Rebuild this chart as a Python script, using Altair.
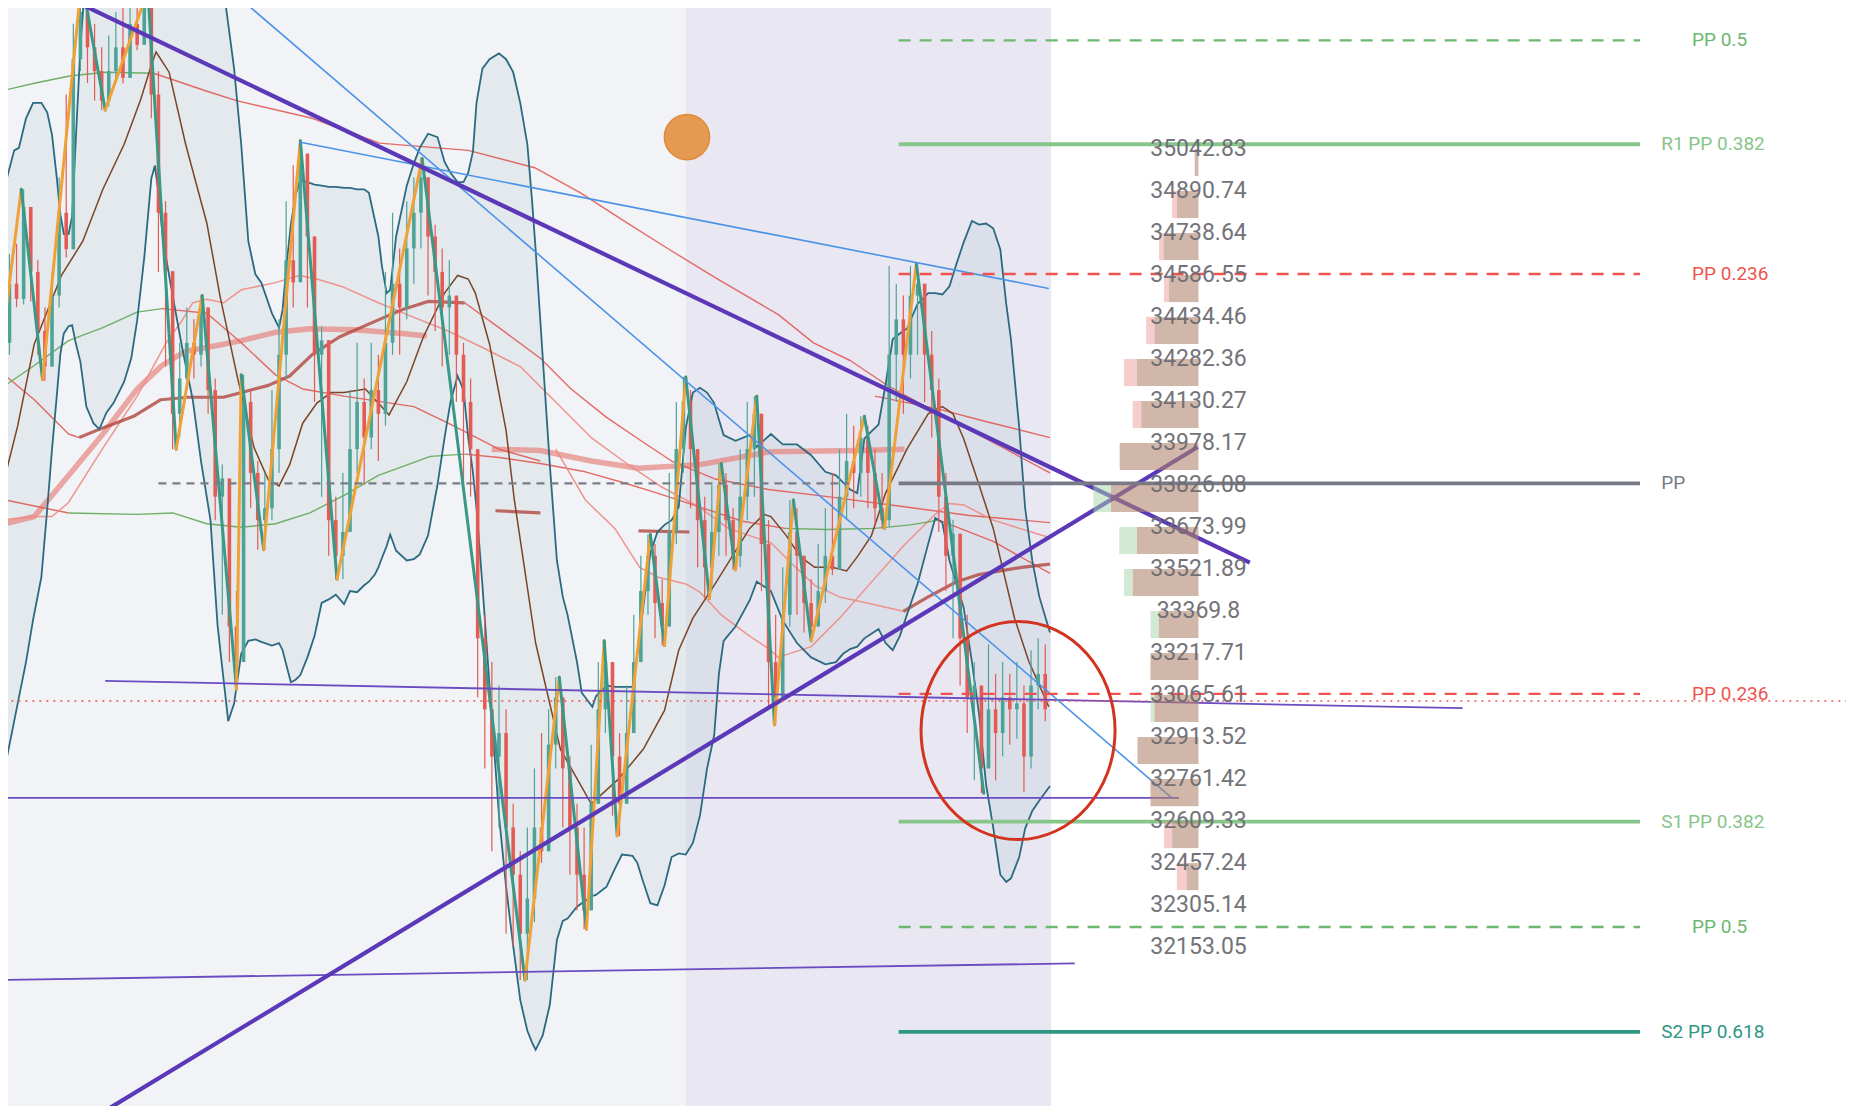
import altair as alt
import pandas as pd
import numpy as np

# ---------------- candles (bar index t, prices) ----------------
candle_t = list(range(2, 890, 6))
first_open = 34298
close = [
34341,34555,34500,34833,34598,34384,34255,34512,34812,34680,
35368,35539,35411,35325,35218,35325,35411,35300,35496,35420,
35561,35240,34812,34600,34084,34212,34341,34298,34469,34170,
33784,33850,33314,33185,34127,33870,33699,33742,33956,34298,
34640,34560,35026,34726,34298,34350,33699,33570,33656,33956,
34127,33998,34170,34084,34341,34555,34469,34683,34812,34940,
34726,34598,34469,34512,34298,34127,33956,33271,33014,32843,
32928,32586,32415,32201,32329,32586,32500,32886,33057,32800,
32586,32415,32286,32672,33014,33185,32843,32672,32928,33185,
33442,33570,33399,33314,33656,33956,34127,33956,33699,33528,
33656,33827,33699,33570,33784,33956,34084,33613,33185,33057,
33356,33656,33570,33399,33314,33442,33570,33520,33784,33913,
33870,33998,33870,33742,33699,34298,34426,34298,34512,34555,
34298,34170,33784,33570,33650,33271,33057,33100,32800,33014,
32928,33057,33014,33035,32843,33100,33142,33014]
high = [
34426,34662,34700,34897,34769,34640,34469,34598,34940,35240,
35496,35668,35582,35496,35411,35454,35539,35582,35582,35603,
35625,35582,35325,34854,34469,34341,34469,34426,34512,34469,
34212,33900,33570,33442,34225,34170,33913,33870,34170,34426,
34854,34983,35073,34983,34726,34400,33998,33784,33870,34170,
34341,34212,34341,34298,34598,34812,34683,34854,34940,35008,
34897,34769,34683,34640,34512,34341,34212,33956,33356,33185,
33100,33014,32672,32500,32586,32800,32928,33014,33130,33057,
32843,32672,32586,32886,33185,33262,33185,32928,33100,33356,
33570,33647,33613,33485,33870,34127,34217,34170,33956,33784,
33827,33904,33870,33742,33956,34127,34148,34041,33699,33356,
33528,33772,33742,33570,33485,33613,33742,33870,33956,34084,
34041,34075,34041,33956,33870,34619,34555,34512,34619,34628,
34512,34384,34212,33870,33700,33528,33356,33185,33014,33249,
33142,33185,33142,33185,33100,33228,33271,33249]
low = [
34255,34298,34470,34480,34491,34298,34204,34298,34469,34650,
35026,35325,35282,35218,35184,35197,35282,35280,35368,35400,
35454,35154,34598,34255,33956,33998,34170,34212,34255,34084,
33699,33356,33185,33087,33185,33742,33592,33592,33699,33870,
34212,34469,34769,34469,34127,33784,33570,33485,33485,33699,
33870,33827,33956,33913,34041,34298,34298,34426,34555,34683,
34512,34384,34255,34298,34127,33827,33784,33057,32800,32500,
32586,32201,32158,32034,32034,32244,32458,32586,32800,32586,
32415,32286,32218,32329,32672,32928,32629,32556,32672,32928,
33185,33356,33271,33245,33314,33613,33870,33742,33528,33416,
33442,33570,33570,33519,33528,33699,33784,33442,33014,32958,
33057,33314,33356,33292,33262,33314,33399,33500,33613,33699,
33742,33784,33742,33677,33669,33677,34127,34084,34212,34298,
34127,33998,33656,33442,33271,33100,32928,32757,32710,32800,
32757,32843,32886,32907,32714,32800,33014,32971]

# ---------------- zigzag pivots ----------------
zz_t = [0,18,36,69,89,125,149,171,200,204,223,254,285,357,444,473,496,511,522,550,
        562,580,600,610,622,640,655,671,686,731,748,775,832]
zz_p = [34285,34897,34208,35655,35184,35616,33956,34512,33087,34225,33592,35073,33485,35008,32034,33130,32218,33262,32556,33647,
        33245,34217,33416,33904,33519,34148,32958,33772,33262,34075,33669,34628,32710]

# ---------------- bollinger bands ----------------
bb_t = [0,6,12,16,22,28,35,40,44,48,
        51,54,58,61,64,68,73,79,84,90,
        96,105,111,116,122,128,131,134,138,146,
        154,163,170,178,184,189,193,198,204,210,
        216,221,230,236,239,242,246,250,254,260,
        266,272,278,284,291,296,302,308,312,317,
        320,323,327,330,335,344,350,355,362,370,
        376,381,387,392,396,400,403,408,414,422,
        428,434,440,446,450,453,459,465,471,476,
        480,488,492,501,504,513,520,526,535,539,
        544,550,556,562,568,574,580,586,592,598,
        604,608,612,622,634,640,652,662,674,686,
        698,707,713,719,725,731,737,743,749,755,
        761,767,776,785,791,797,803,809,815,822,
        828,834,840,846,851,855,862,867,873,879,
        888]
bb_upper = [34773,34940,35038,35047,35154,35210,35210,35175,35094,34940,
        34807,34735,34735,34799,35068,35411,35710,35924,35967,36010,
        36010,36010,36010,36010,36010,36010,36010,36010,36010,36010,
        36010,35967,35924,35839,35753,35625,35496,35334,35060,34709,
        34589,34559,34448,34396,34461,34610,34769,34876,34931,34923,
        34914,34910,34906,34906,34902,34902,34897,34897,34884,34786,
        34726,34619,34521,34533,34726,34910,34991,35047,35098,35086,
        34996,34957,34923,34923,34957,35034,35210,35334,35368,35389,
        35368,35321,35210,35060,34854,34679,34289,33900,33553,33421,
        33356,33185,33074,33023,33061,33100,33095,33095,33095,33215,
        33382,33579,33656,33682,33699,33746,34033,34161,34178,34161,
        34123,34063,34007,33986,34007,33964,34011,33973,33973,33934,
        33874,33861,33836,33810,33797,33994,34020,34045,34191,34354,
        34375,34392,34482,34521,34521,34516,34546,34628,34705,34782,
        34769,34773,34756,34679,34482,34354,34033,33742,33553,33421,
        33292]
bb_lower = [32804,32843,32971,33057,33185,33339,33493,33742,33956,34148,
        34298,34375,34401,34405,34341,34272,34110,34050,34028,34088,
        34123,34200,34285,34422,34649,34936,34983,34884,34709,34512,
        34324,34135,33913,33699,33318,33125,32971,33035,33215,33262,
        33267,33258,33245,33254,33228,33177,33112,33121,33138,33202,
        33279,33399,33412,33429,33395,33442,33438,33463,33476,33502,
        33528,33562,33605,33647,33588,33553,33558,33575,33643,33827,
        33998,34127,34221,34170,33998,33870,33742,33463,33100,32629,
        32372,32158,31961,31850,31807,31781,31833,31944,32179,32248,
        32256,32299,32312,32338,32342,32372,32436,32488,32483,32458,
        32389,32312,32304,32376,32479,32492,32488,32530,32629,32800,
        32920,33142,33262,33314,33408,33476,33442,33335,33254,33202,
        33177,33185,33215,33232,33241,33271,33288,33305,33254,33228,
        33279,33356,33468,33613,33707,33690,33553,33468,33382,33185,
        32997,32740,32586,32415,32389,32402,32479,32582,32646,32684,
        32736]

# ---------------- basis (brown) ----------------
brown_t = [0,15,29,52,70,87,105,119,128,132,143,157,175,186,201,215,227,236,245,256,
           268,280,291,309,320,329,344,358,376,387,396,402,414,428,435,453,474,500,523,544,
           562,574,586,604,634,646,652,665,677,689,704,716,725,737,749,767,785,797,806,815,
           828,840,858,870,887]
brown_p = [33784,34041,34337,34585,34709,34897,35060,35222,35347,35394,35321,35060,34773,34512,34212,33960,33844,33823,33900,34050,
           34123,34161,34161,34174,34123,34080,34200,34362,34521,34585,34572,34521,34337,34024,33772,33254,32869,32672,32761,32869,
           33010,33228,33344,33463,33669,33720,33712,33643,33566,33528,33528,33515,33566,33643,33797,33956,34084,34110,34084,33994,
           33827,33669,33344,33189,33023]

# ---------------- moving averages (style, t, price) ----------------
ma1_green_t = [0,30,60,90,130]
ma1_green_p = [35252,35282,35308,35321,35317]
ma1_red_t = [130,175,200,264,321,396,453,491,528,566,607,658,688,719,749,772,809,847,888]
ma1_red_p = [35317,35252,35218,35154,35064,35038,34974,34884,34782,34679,34572,34444,34341,34277,34191,34135,34050,33964,33870]
ma2_t = [740,794,832,888]
ma2_p = [34148,34101,34058,33998]
ma3a_t = [0,29,58,67]
ma3a_p = [34238,34135,34011,33998]
ma3b_t = [67,87,113,136,159,189,227,245,264,287,321,340,362,393]
ma3b_p = [33998,34033,34075,34135,34144,34144,34187,34221,34298,34362,34426,34461,34491,34486]
ma3c_t = [393,422,457,483,513,544,568,604,650,700,760,820,888]
ma3c_p = [34486,34396,34285,34174,34071,33981,33913,33849,33810,33784,33750,33716,33690]
ma4a_t = [0,29,58,87,116,137,157,175,204,233,262,300,340,361]
ma4a_p = [33682,33712,33861,34011,34174,34259,34311,34324,34349,34379,34392,34388,34375,34366]
ma4b_t = [416,457,500,540,592,652,725,765]
ma4b_p = [33956,33951,33913,33887,33900,33947,33951,33956]
ma5a_t = [419,457]
ma5a_p = [33733,33725]
ma5b_t = [540,583]
ma5b_p = [33660,33656]
ma6a_t = [0,29,58]
ma6a_p = [33776,33750,33725]
ma6b_t = [58,116,146,175,204,233,262,291,320,364,393]
ma6b_p = [33725,33720,33725,33686,33673,33686,33725,33789,33861,33930,33938]
ma6c_t = [393,422,457,495,526,556,592,628,664]
ma6c_p = [33938,33926,33904,33874,33836,33797,33746,33695,33669]
ma6d_t = [664,700,740,770,794]
ma6d_p = [33669,33665,33669,33682,33699]
ma6e_t = [794,840,888]
ma6e_p = [33699,33622,33506]
ma7a_t = [0,29,58,87,116,137]
ma7a_p = [34174,34259,34349,34396,34452,34465]
ma7b_t = [137,175,204,233,256,291,350,379,422,457]
ma7b_p = [34465,34448,34341,34225,34174,34148,34110,34050,33956,33913]
ma8a_t = [0,29,44,58,87,116,140,154,163,175,189,204,233,253,268,291,320,349,379,408,
          440,470,500,530,560,590,616,634,652,670,689,710,737,764]
ma8a_p = [33699,33712,33712,33763,33960,34148,34337,34422,34486,34499,34486,34533,34559,34585,34572,34542,34486,34435,34384,34324,
          34255,34127,33998,33904,33818,33750,33669,33643,33617,33540,33463,33421,33395,33369]
ma8b_t = [764,785,809,828,846,864,888]
ma8b_p = [33369,33421,33476,33502,33515,33528,33540]
ma9_t = [470,495,520,541,556,580,592,610,634,652,658,686,710,740,764,791,803,815,840,888]
ma9_p = [33956,33772,33669,33528,33493,33468,33438,33356,33279,33228,33202,33241,33344,33489,33605,33720,33759,33754,33699,33635]

# ---------------- drawn trend lines ----------------
trend_x1 = [55, 80, 193, 253, 89, 0, 0]
trend_y1 = [35595, 31537, 35625, 35068, 33117, 32693, 32034]
trend_x2 = [1057, 1013, 991, 887, 1237, 997, 909]
trend_y2 = [33545, 33964, 32693, 34538, 33018, 32693, 32094]
trend_kind = ["thick", "thick", "blue", "blue", "thin", "thin", "thin"]

# ---------------- pivot levels ----------------
pivot_levels = [35436, 35060, 34590, 33832, 33070, 32607, 32226, 31846]
pivot_names = ["PP 0.5", "R1 PP 0.382", "PP 0.236", "PP", "PP 0.236", "S1 PP 0.382", "PP 0.5", "S2 PP 0.618"]
pivot_label_t = [1431, 1405, 1431, 1405, 1431, 1405, 1431, 1405]
pivot_colors = ["#6db870", "#87c58a", "#ef5350", "#787b86", "#ef5350", "#87c58a", "#6db870", "#2e9683"]
pivot_dashed = [True, False, True, False, True, False, True, False]
pivot_from, pivot_to = 760, 1387
prev_pp_level = 33832
prev_pp_from, prev_pp_to = 134, 718
last_price = 33044

# ---------------- volume profile ----------------
vp_price = [35042.83, 34890.74, 34738.64, 34586.55, 34434.46, 34282.36, 34130.27, 33978.17, 33826.08, 33673.99,
            33521.89, 33369.8, 33217.71, 33065.61, 32913.52, 32761.42, 32609.33, 32457.24, 32305.14, 32153.05]
vp_main = [3.2, 18.3, 29.6, 25.1, 37.3, 52.0, 48.4, 66.6, 74.0, 52.0, 55.6, 33.6, 40.6, 37.3, 51.6, 40.6, 22.3, 10.1, 0, 0]
vp_side = [0, 4.0, 3.7, 4.1, 6.9, 11.0, 7.3, 0, 14.9, 15.0, 7.4, 7.0, 0, 3.3, 0, 0, 6.8, 8.2, 0, 0]
vp_side_kind = ["sell", "sell", "sell", "sell", "sell", "sell", "sell", "none", "buy", "buy",
                "buy", "buy", "none", "buy", "none", "none", "sell", "sell", "none", "none"]
vp_anchor = 1013.6
vp_bar_depth = 98

# ---------------- annotations ----------------
marker_t, marker_p = [581], [35086]
ellipse_t, ellipse_p = [861], [32937]

# ================= build =================
GREEN, RED = "#4ea397", "#e35b52"
xs = alt.Scale(domain=[6.766, 1561.23], nice=False, zero=False)
ys = alt.Scale(domain=[31577.6, 35553.4], nice=False, zero=False)


def X(f):
    return alt.X(f + ":Q", scale=xs, axis=None)


def Y(f):
    return alt.Y(f + ":Q", scale=ys, axis=None)


def C(f="col"):
    return alt.Color(f + ":N", scale=None, legend=None)


layers = []

# backgrounds
bg = pd.DataFrame({"x1": [-20, 580], "x2": [580, 889], "y1": [31000, 31000], "y2": [36500, 36500],
                   "col": ["#f1f3f6", "#e9e8f2"]})
layers.append(alt.Chart(bg).mark_rect(clip=True).encode(x=X("x1"), x2="x2", y=Y("y1"), y2="y2", color=C()))

# bollinger fill
bb = pd.DataFrame({"t": bb_t, "u": bb_upper, "l": bb_lower})
layers.append(alt.Chart(bb).mark_area(color="#2a6b82", opacity=0.07, clip=True).encode(x=X("t"), y=Y("u"), y2="l"))

# moving averages
ma_segments = [
    ("red", ma1_red_t, ma1_red_p), ("green", ma1_green_t, ma1_green_p),
    ("red", ma2_t, ma2_p),
    ("red", ma3a_t, ma3a_p), ("dark", ma3b_t, ma3b_p), ("red", ma3c_t, ma3c_p),
    ("salmon", ma4a_t, ma4a_p), ("salmon", ma4b_t, ma4b_p),
    ("dark", ma5a_t, ma5a_p), ("dark", ma5b_t, ma5b_p),
    ("red", ma6a_t, ma6a_p), ("green", ma6b_t, ma6b_p), ("red", ma6c_t, ma6c_p),
    ("green", ma6d_t, ma6d_p), ("red", ma6e_t, ma6e_p),
    ("green", ma7a_t, ma7a_p), ("red", ma7b_t, ma7b_p),
    ("light", ma8a_t, ma8a_p), ("dark", ma8b_t, ma8b_p),
    ("light", ma9_t, ma9_p),
]
styles = {
    "salmon": ("#e6736b", 5.5, 0.6),
    "red": ("#e0524c", 1.4, 0.85),
    "light": ("#ee8a82", 1.5, 0.9),
    "green": ("#5fa855", 1.4, 0.9),
    "dark": ("#b0463f", 3.2, 0.8),
}
rows = []
for k, (sty, ts, ps) in enumerate(ma_segments):
    for i, (t, p) in enumerate(zip(ts, ps)):
        rows.append({"seg": k, "i": i, "t": t, "p": p, "style": sty})
ma_df = pd.DataFrame(rows)
for sty in ["salmon", "red", "light", "green", "dark"]:
    col, w, op = styles[sty]
    layers.append(alt.Chart(ma_df[ma_df["style"] == sty]).mark_line(
        color=col, strokeWidth=w, opacity=op, clip=True, strokeJoin="round").encode(
        x=X("t"), y=Y("p"), detail="seg:N", order="i:Q"))

# bollinger lines
bbl = pd.concat([pd.DataFrame({"t": bb_t, "p": bb_upper, "seg": "u"}),
                 pd.DataFrame({"t": bb_t, "p": bb_lower, "seg": "l"})])
layers.append(alt.Chart(bbl).mark_line(color="#2b6a80", strokeWidth=1.8, clip=True).encode(
    x=X("t"), y=Y("p"), detail="seg:N"))

# brown basis
layers.append(alt.Chart(pd.DataFrame({"t": brown_t, "p": brown_p})).mark_line(
    color="#7a4526", strokeWidth=1.5, clip=True).encode(x=X("t"), y=Y("p")))

# candles
opens = [first_open] + close[:-1]
cd = pd.DataFrame({"t": candle_t, "o": opens, "c": close, "h": high, "l": low})
cd["hi"] = cd[["h", "o", "c"]].max(axis=1)
cd["lo"] = cd[["l", "o", "c"]].min(axis=1)
cd["col"] = np.where(cd["c"] >= cd["o"], GREEN, RED)
layers.append(alt.Chart(cd).mark_rule(strokeWidth=1.2, clip=True).encode(x=X("t"), y=Y("lo"), y2="hi", color=C()))
layers.append(alt.Chart(cd).mark_rule(strokeWidth=3.6, clip=True).encode(x=X("t"), y=Y("o"), y2="c", color=C()))

# zigzag
zz = pd.DataFrame({"x1": zz_t[:-1], "y1": zz_p[:-1], "x2": zz_t[1:], "y2": zz_p[1:]})
zz["col"] = np.where(zz["y2"] > zz["y1"], "#f0a035", "#3a9886")
layers.append(alt.Chart(zz).mark_rule(strokeWidth=3, clip=True, strokeCap="round").encode(
    x=X("x1"), y=Y("y1"), x2="x2", y2="y2", color=C()))

# trend lines
tr = pd.DataFrame({"x1": trend_x1, "y1": trend_y1, "x2": trend_x2, "y2": trend_y2, "kind": trend_kind})
for kind, col, w in [("thin", "#6a4bc2", 1.8), ("blue", "#4a93e8", 1.6), ("thick", "#5b38b8", 4.2)]:
    layers.append(alt.Chart(tr[tr["kind"] == kind]).mark_rule(color=col, strokeWidth=w, clip=True).encode(
        x=X("x1"), y=Y("y1"), x2="x2", y2="y2"))

# previous PP dashed, last price dotted
layers.append(alt.Chart(pd.DataFrame({"x1": [prev_pp_from], "x2": [prev_pp_to], "y": [prev_pp_level]})).mark_rule(
    color="#7b7d87", strokeWidth=2.2, strokeDash=[8, 6], clip=True).encode(x=X("x1"), x2="x2", y=Y("y")))
layers.append(alt.Chart(pd.DataFrame({"x1": [-20], "x2": [1600], "y": [last_price]})).mark_rule(
    color="#ef5350", strokeWidth=1.6, strokeDash=[2, 5], clip=True).encode(x=X("x1"), x2="x2", y=Y("y")))

# pivot levels
pv = pd.DataFrame({"y": pivot_levels, "name": pivot_names, "lt": pivot_label_t, "col": pivot_colors,
                   "dashed": pivot_dashed, "x1": pivot_from, "x2": pivot_to})
layers.append(alt.Chart(pv[pv["dashed"]]).mark_rule(strokeWidth=2.4, strokeDash=[12, 9]).encode(
    x=X("x1"), x2="x2", y=Y("y"), color=C()))
layers.append(alt.Chart(pv[~pv["dashed"]]).mark_rule(strokeWidth=3.8).encode(
    x=X("x1"), x2="x2", y=Y("y"), color=C()))

# volume profile
vrows = []
for price, m, s, kind in zip(vp_price, vp_main, vp_side, vp_side_kind):
    if m > 0:
        vrows.append({"x1": vp_anchor - m, "x2": vp_anchor, "top": price, "bot": price - vp_bar_depth,
                      "col": "#b0836a", "op": 0.58})
    if s > 0:
        vrows.append({"x1": vp_anchor - m - s, "x2": vp_anchor - m, "top": price, "bot": price - vp_bar_depth,
                      "col": "#ef9a9a" if kind == "sell" else "#a5d6a7", "op": 0.5})
vdf = pd.DataFrame(vrows)
layers.append(alt.Chart(vdf).mark_rect().encode(
    x=X("x1"), x2="x2", y=Y("top"), y2="bot", color=C(), opacity=alt.Opacity("op:Q", scale=None)))
vl = pd.DataFrame({"t": vp_anchor, "p": vp_price, "txt": [str(v) for v in vp_price]})
layers.append(alt.Chart(vl).mark_text(fontSize=23, font="Roboto", color="#6c6c72", opacity=0.95,
                                      align="center", baseline="middle").encode(x=X("t"), y=Y("p"), text="txt:N"))

# pivot labels
layers.append(alt.Chart(pv).mark_text(fontSize=19, font="Roboto", align="left", baseline="middle").encode(
    x=X("lt"), y=Y("y"), text="name:N", color=C()))

# annotations
layers.append(alt.Chart(pd.DataFrame({"t": marker_t, "p": marker_p})).mark_point(
    shape="circle", filled=True, size=2043, color="#e49a50", stroke="#e08a3a", strokeWidth=1.5, opacity=1).encode(
    x=X("t"), y=Y("p")))
ellipse_path = "M -0.89 0 A 0.89 1 0 1 0 0.89 0 A 0.89 1 0 1 0 -0.89 0 Z"
layers.append(alt.Chart(pd.DataFrame({"t": ellipse_t, "p": ellipse_p})).mark_point(
    shape=ellipse_path, filled=False, size=47524, color="#d3341f", strokeWidth=3, opacity=1).encode(
    x=X("t"), y=Y("p")))

chart = alt.layer(*layers).properties(
    width=1838, height=1098, padding=0, background="white",
    autosize=alt.AutoSizeParams(type="none"),
).configure_view(stroke=None)

chart.save("out.html", embed_options={"renderer": "svg", "actions": False})
